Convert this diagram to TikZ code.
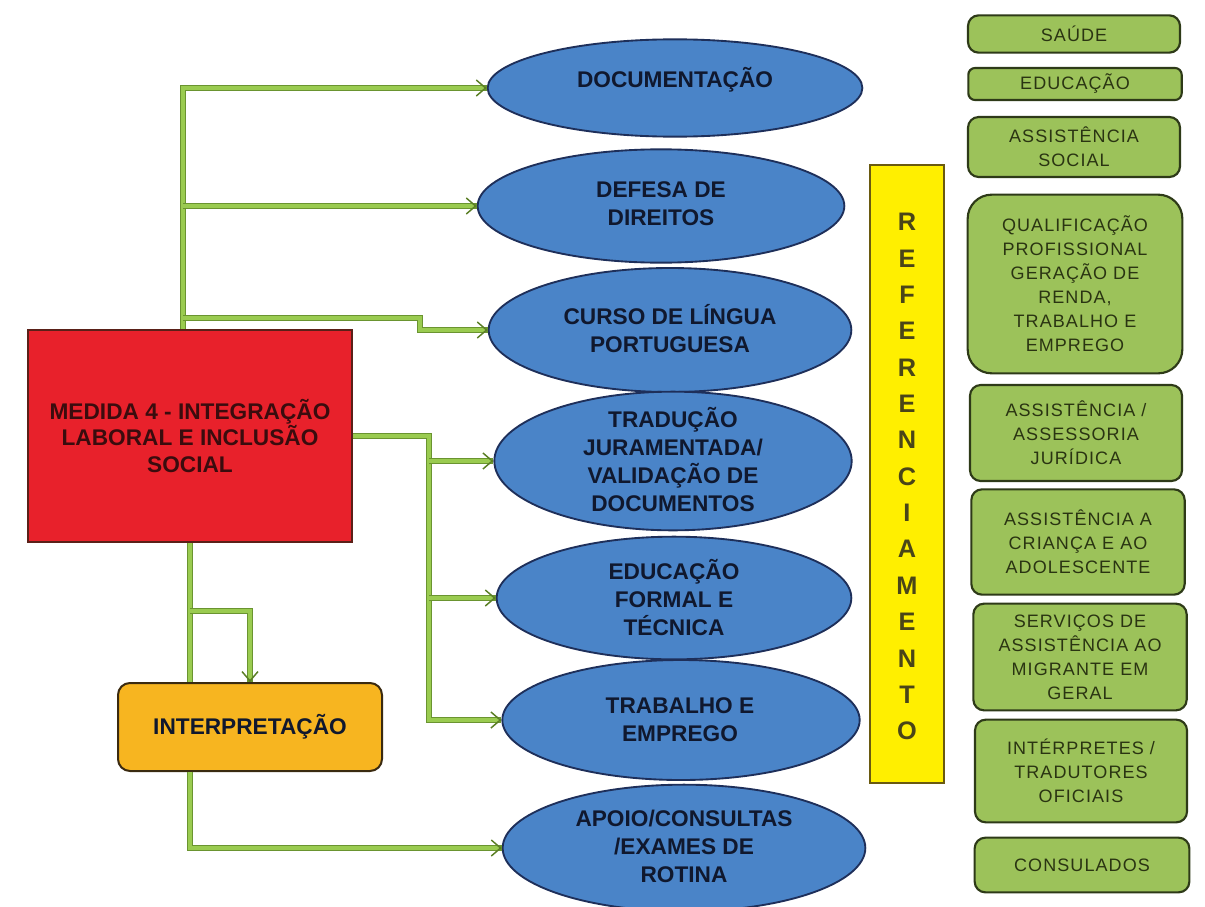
\documentclass[tikz,border=0pt]{standalone}
\usepackage{fontspec}
\setmainfont{Liberation Sans}
\usetikzlibrary{shapes.geometric,arrows.meta,calc}
\definecolor{eblue}{HTML}{4A84C8}
\definecolor{eline}{HTML}{1E2F5A}
\definecolor{etxt}{HTML}{10182E}
\definecolor{rfill}{HTML}{E8212B}
\definecolor{rline}{HTML}{5A2018}
\definecolor{rtxt}{HTML}{3A0C0E}
\definecolor{ofill}{HTML}{F7B520}
\definecolor{oline}{HTML}{3A2A10}
\definecolor{yfill}{HTML}{FFEF00}
\definecolor{yline}{HTML}{6A5A10}
\definecolor{ytxt}{HTML}{4A4518}
\definecolor{gfill}{HTML}{9CC25A}
\definecolor{gline}{HTML}{2E3A18}
\definecolor{gtxt}{HTML}{2A3412}
\definecolor{cin}{HTML}{9ACB50}
\definecolor{cedge}{HTML}{6A9430}
\definecolor{carrow}{HTML}{5A7E24}
\begin{document}
\begin{tikzpicture}[x=0.75pt,y=-0.75pt,
  ell/.style={ellipse, draw=eline, line width=1.4pt, fill=eblue, inner sep=0pt},
  etext/.style={align=center, font=\bfseries\fontsize{17}{21}\selectfont, text=etxt},
  gbox/.style={rectangle, rounded corners=8pt, draw=gline, line width=1.6pt, fill=gfill,
    align=center, font=\fontsize{13.5}{18}\selectfont\addfontfeature{LetterSpace=6}, text=gtxt, inner sep=2pt},
  conn/.style={draw=cin, line width=3.2pt, preaction={draw=cedge, line width=5.2pt, arrows=-}},
  arr/.style={-{Straight Barb[length=7pt,width=12pt,line width=1.1pt,color=carrow]}},
  ylet/.style={font=\bfseries\fontsize{19}{19}\selectfont, text=ytxt, inner sep=0pt}
]
\useasboundingbox[fill=white] (0,0) rectangle (1205,906);

% main boxes
\node[rectangle, draw=rline, line width=1.5pt, fill=rfill, minimum width=243pt, minimum height=159pt,
  align=center, font=\bfseries\fontsize{17}{20}\selectfont, text=rtxt] (red) at (190,436)
  {MEDIDA 4 - INTEGRAÇÃO\\LABORAL E INCLUSÃO\\SOCIAL};
\node[rectangle, rounded corners=9pt, draw=oline, line width=1.5pt, fill=ofill, minimum width=198pt, minimum height=66pt,
  font=\bfseries\fontsize{17}{20}\selectfont, text=etxt] (orange) at (250,727) {INTERPRETAÇÃO};

% ellipses
\node[ell, minimum width=281pt, minimum height=73pt] (e1) at (675,88) {};
\node[ell, minimum width=275pt, minimum height=85pt] (e2) at (661,206) {};
\node[ell, minimum width=272pt, minimum height=93pt] (e3) at (670,330) {};
\node[ell, minimum width=268pt, minimum height=104pt] (e4) at (673,461) {};
\node[ell, minimum width=266pt, minimum height=92pt] (e5) at (674,598) {};
\node[ell, minimum width=268pt, minimum height=90pt] (e6) at (681,720) {};
\node[ell, minimum width=272pt, minimum height=95pt] (e7) at (684,848) {};
\node[etext] (t1) at (675,80) {DOCUMENTAÇÃO};
\node[etext] (t2) at (661,204) {DEFESA DE\\DIREITOS};
\node[etext] (t3) at (670,329) {CURSO DE LÍNGUA\\PORTUGUESA};
\node[etext] (t4) at (673,460) {TRADUÇÃO\\JURAMENTADA/\\VALIDAÇÃO DE\\DOCUMENTOS};
\node[etext] (t5) at (674,598) {EDUCAÇÃO\\FORMAL E\\TÉCNICA};
\node[etext] (t6) at (680,720) {TRABALHO E\\EMPREGO};
\node[etext] (t7) at (684,846) {APOIO/CONSULTAS\\/EXAMES DE\\ROTINA};

% yellow column
\node[rectangle, draw=yline, line width=1.6pt, fill=yfill, minimum width=56pt, minimum height=463pt] (yel) at (907,474) {};
\foreach \l [count=\i from 0] in {R,E,F,E,R,E,N,C,I,A,M,E,N,T,O}
  \node[ylet] (L\i) at (907,{222+36.36*\i}) {\l};

% green boxes
\node[gbox, minimum width=159pt, minimum height=28pt] (g1) at (1074,34) {SAÚDE};
\node[gbox, rounded corners=5pt, minimum width=160pt, minimum height=24pt] (g2) at (1075,84) {EDUCAÇÃO};
\node[gbox, minimum width=159pt, minimum height=45pt] (g3) at (1074,147) {ASSISTÊNCIA\\SOCIAL};
\node[gbox, rounded corners=18pt, minimum width=161pt, minimum height=134pt] (g4) at (1075,284)
  {QUALIFICAÇÃO\\PROFISSIONAL\\GERAÇÃO DE\\RENDA,\\TRABALHO E\\EMPREGO};
\node[gbox, minimum width=159pt, minimum height=72pt] (g5) at (1076,433) {ASSISTÊNCIA /\\ASSESSORIA\\JURÍDICA};
\node[gbox, minimum width=160pt, minimum height=79pt] (g6) at (1078,542) {ASSISTÊNCIA A\\CRIANÇA E AO\\ADOLESCENTE};
\node[gbox, minimum width=160pt, minimum height=80pt] (g7) at (1080,657) {SERVIÇOS DE\\ASSISTÊNCIA AO\\MIGRANTE EM\\GERAL};
\node[gbox, minimum width=159pt, minimum height=77pt] (g8) at (1081,771) {INTÉRPRETES /\\TRADUTORES\\OFICIAIS};
\node[gbox, minimum width=161pt, minimum height=41pt] (g9) at (1082,865) {CONSULADOS};

% connectors
\coordinate (t0) at ($(red.north)+(-7,0)$);
\coordinate (k3) at (420,318);
\draw[conn,arr] (t0) |- (e1.west);
\draw[conn,arr] (t0 |- e2.west) -- (e2.west);
\draw[conn,arr] (t0 |- k3) -- (k3) |- (e3.west);

\coordinate (v) at ($(red.east)+(76,0)$);
\draw[conn,arr] (red.east) -- (v) |- (e6.west);
\draw[conn,arr] (v |- e4.west) -- (e4.west);
\draw[conn,arr] (v |- e5.west) -- (e5.west);

\coordinate (k6) at ($(red.south)+(0,68)$);
\draw[conn] (red.south) -- (red.south |- orange.north);
\draw[conn,arr] (k6) -| (orange.north);
\draw[conn,arr] (orange.south -| red.south) |- (e7.west);
\end{tikzpicture}
\end{document}
